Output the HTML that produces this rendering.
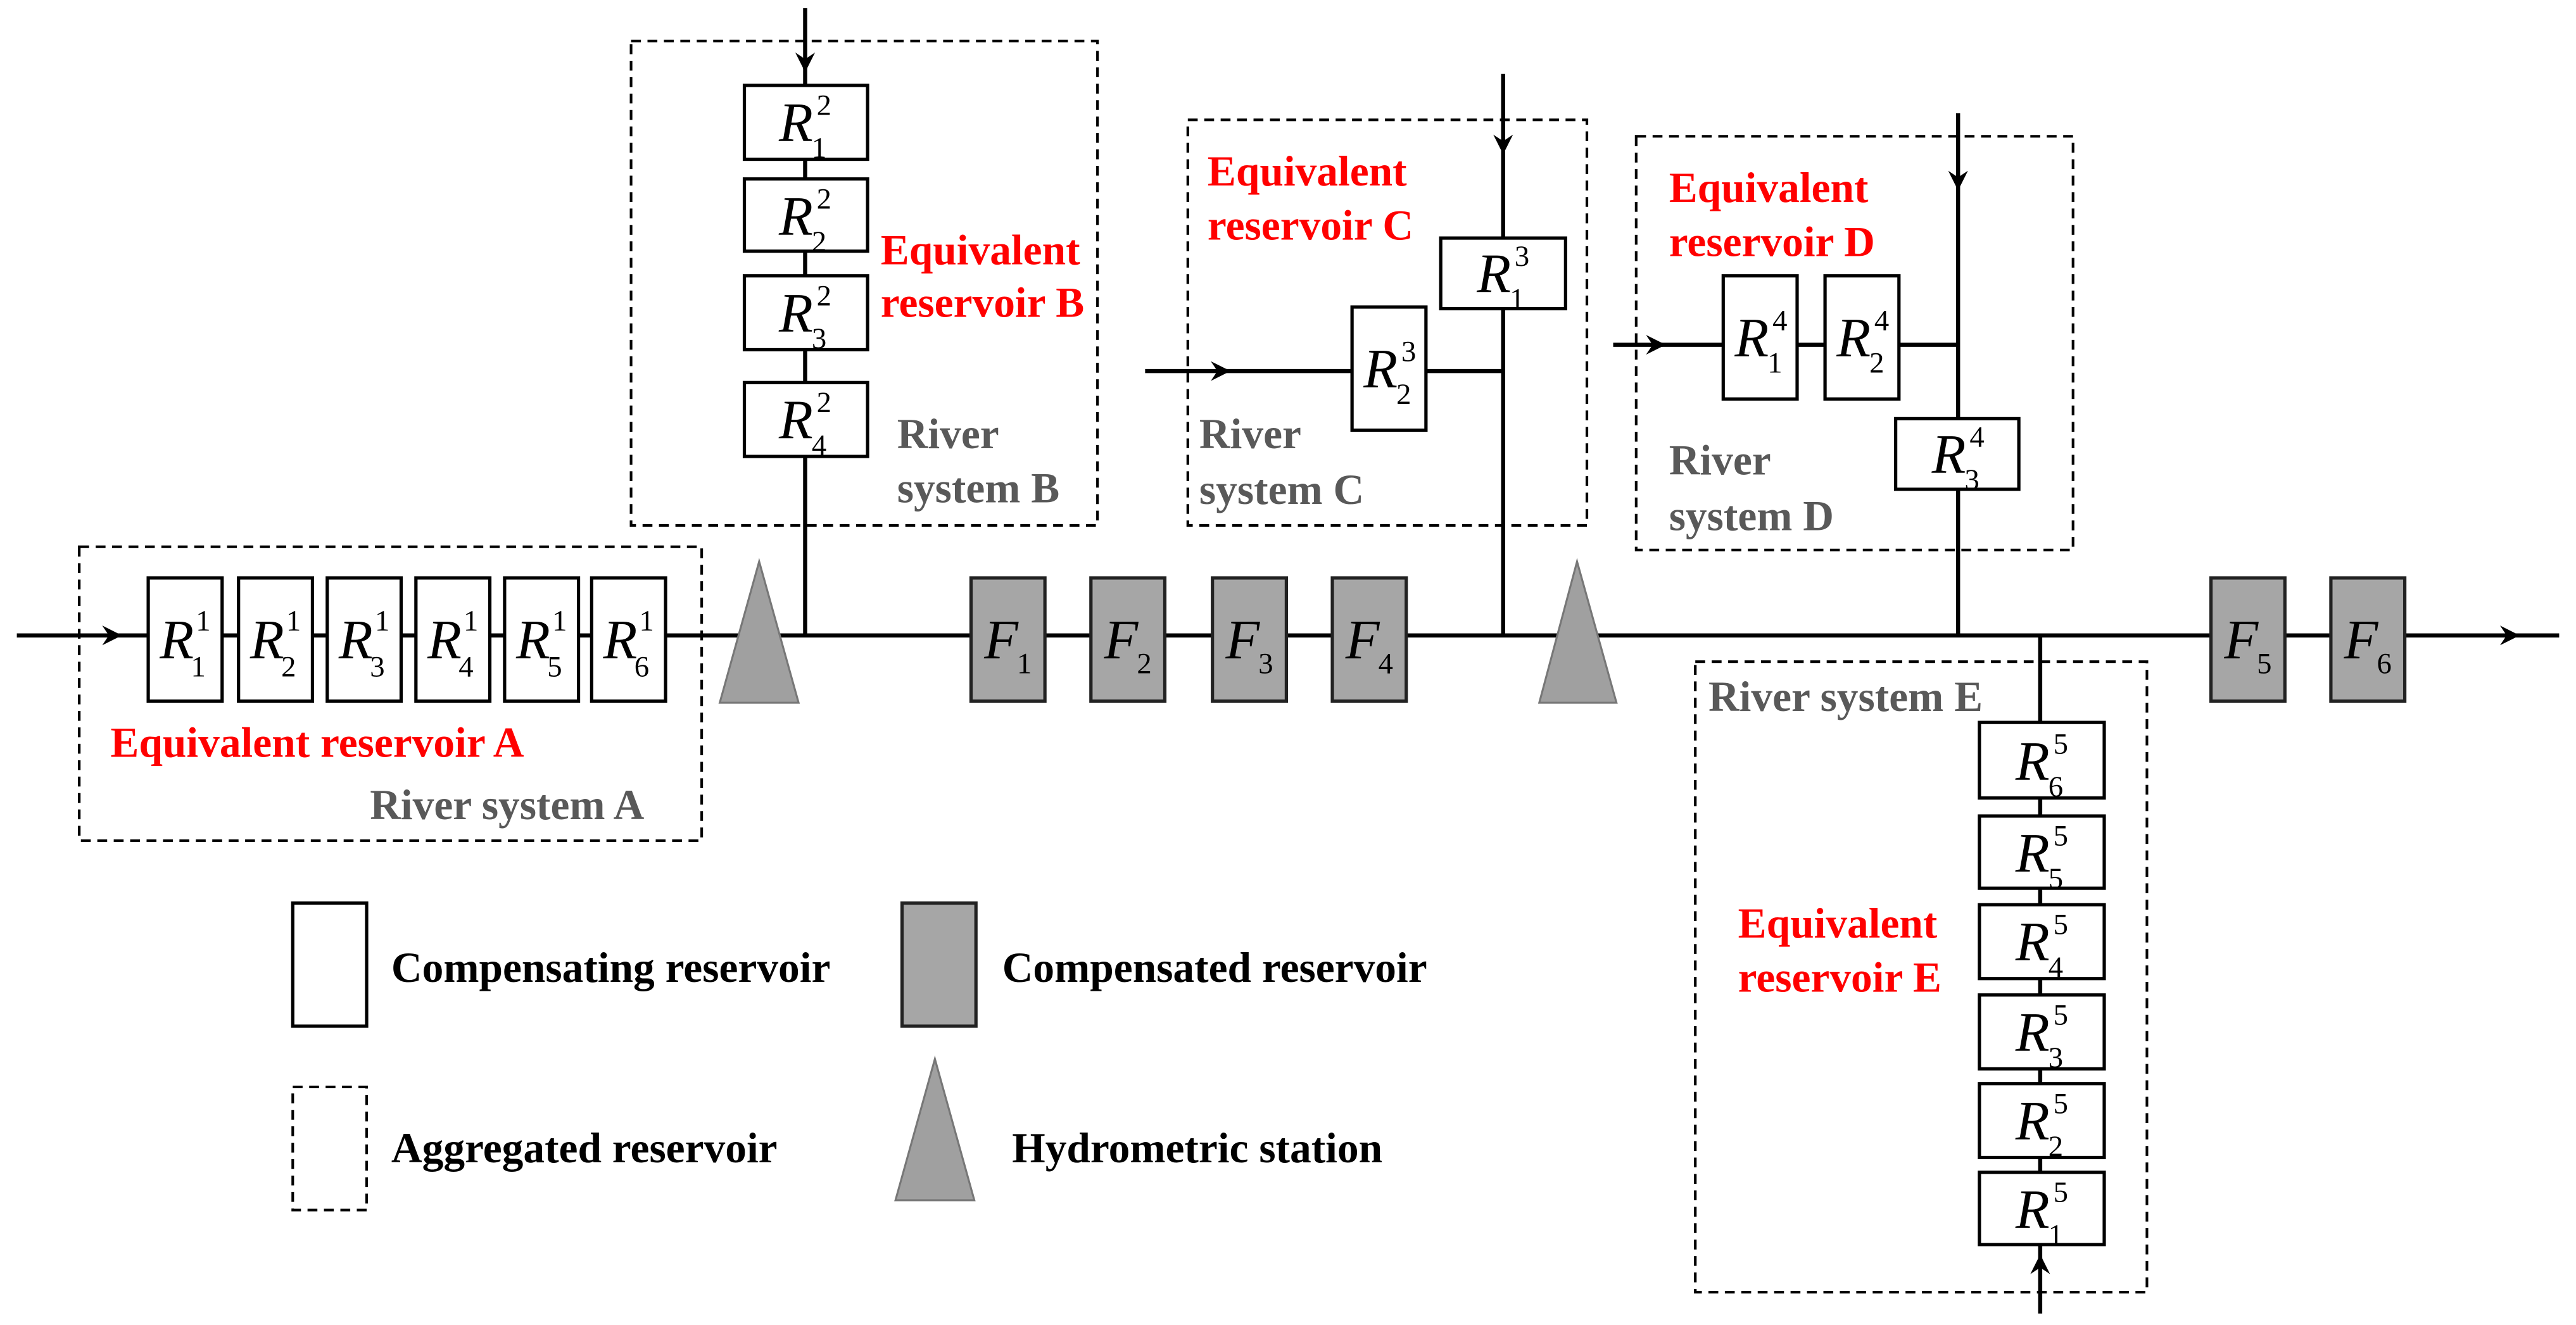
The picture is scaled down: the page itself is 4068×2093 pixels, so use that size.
<!DOCTYPE html>
<html><head><meta charset="utf-8"><style>
html,body{margin:0;padding:0;background:#fff;}
svg{display:block;}
.lb{font-family:"Liberation Serif","DejaVu Serif",serif;font-weight:bold;font-size:26px;}
.red{fill:#f00;}
.gr{fill:#595959;}
.r{font-family:"Liberation Serif",serif;font-style:italic;font-size:34px;}
.s{font-family:"Liberation Serif",serif;font-size:18px;}
.bx{fill:#fff;stroke:#000;stroke-width:2;}
.fx{fill:#a6a6a6;stroke:#222;stroke-width:2;}
.ds{fill:none;stroke:#000;stroke-width:1.6;stroke-dasharray:6,4;}
.ln{stroke:#000;stroke-width:2.5;fill:none;}
.tri{fill:#a0a0a0;stroke:#777;stroke-width:1.2;}
</style></head><body>
<svg width="4068" height="2093" viewBox="0 0 1568 807" xmlns="http://www.w3.org/2000/svg">
<defs><marker id="ar" markerWidth="14" markerHeight="12" refX="10" refY="6" orient="auto" markerUnits="userSpaceOnUse"><path d="M0,0 L12,6 L0,12 L4,6 z" fill="#000"/></marker></defs>

<line class="ln" x1="10" y1="387" x2="72" y2="387" marker-end="url(#ar)"/>
<line class="ln" x1="70" y1="387" x2="1530" y2="387"/>
<line class="ln" x1="1528" y1="387" x2="1532" y2="387" marker-end="url(#ar)"/>
<line class="ln" x1="1530" y1="387" x2="1558" y2="387"/>
<line class="ln" x1="490" y1="5" x2="490" y2="42" marker-end="url(#ar)"/>
<line class="ln" x1="490" y1="40" x2="490" y2="387"/>
<line class="ln" x1="915" y1="45" x2="915" y2="92" marker-end="url(#ar)"/>
<line class="ln" x1="915" y1="90" x2="915" y2="387"/>
<line class="ln" x1="697" y1="226" x2="747" y2="226" marker-end="url(#ar)"/>
<line class="ln" x1="745" y1="226" x2="915" y2="226"/>
<line class="ln" x1="1192" y1="69" x2="1192" y2="114" marker-end="url(#ar)"/>
<line class="ln" x1="1192" y1="112" x2="1192" y2="387"/>
<line class="ln" x1="982" y1="210" x2="1012" y2="210" marker-end="url(#ar)"/>
<line class="ln" x1="1010" y1="210" x2="1192" y2="210"/>
<line class="ln" x1="1242" y1="800" x2="1242" y2="766" marker-end="url(#ar)"/>
<line class="ln" x1="1242" y1="768" x2="1242" y2="387"/>

<rect class="ds" x="48" y="333" width="379" height="179"/>
<rect class="ds" x="384" y="25" width="284" height="295"/>
<rect class="ds" x="723" y="73" width="243" height="247"/>
<rect class="ds" x="996" y="83" width="266" height="252"/>
<rect class="ds" x="1032" y="403" width="275" height="384"/>

<rect class="bx" x="90" y="352" width="45" height="75"/>
<rect class="bx" x="145" y="352" width="45" height="75"/>
<rect class="bx" x="199" y="352" width="45" height="75"/>
<rect class="bx" x="253" y="352" width="45" height="75"/>
<rect class="bx" x="307" y="352" width="45" height="75"/>
<rect class="bx" x="360" y="352" width="45" height="75"/>
<text class="r" x="97" y="401">R</text><text class="s" x="119" y="384">1</text><text class="s" x="116" y="412">1</text>
<text class="r" x="152" y="401">R</text><text class="s" x="174" y="384">1</text><text class="s" x="171" y="412">2</text>
<text class="r" x="206" y="401">R</text><text class="s" x="228" y="384">1</text><text class="s" x="225" y="412">3</text>
<text class="r" x="260" y="401">R</text><text class="s" x="282" y="384">1</text><text class="s" x="279" y="412">4</text>
<text class="r" x="314" y="401">R</text><text class="s" x="336" y="384">1</text><text class="s" x="333" y="412">5</text>
<text class="r" x="367" y="401">R</text><text class="s" x="389" y="384">1</text><text class="s" x="386" y="412">6</text>

<rect class="bx" x="453" y="52" width="75" height="45"/>
<rect class="bx" x="453" y="109" width="75" height="44"/>
<rect class="bx" x="453" y="168" width="75" height="45"/>
<rect class="bx" x="453" y="233" width="75" height="45"/>
<text class="r" x="474" y="86">R</text><text class="s" x="497" y="70">2</text><text class="s" x="494" y="96">1</text>
<text class="r" x="474" y="143">R</text><text class="s" x="497" y="127">2</text><text class="s" x="494" y="153">2</text>
<text class="r" x="474" y="202">R</text><text class="s" x="497" y="186">2</text><text class="s" x="494" y="212">3</text>
<text class="r" x="474" y="267">R</text><text class="s" x="497" y="251">2</text><text class="s" x="494" y="277">4</text>

<rect class="bx" x="877" y="145" width="76" height="43"/>
<rect class="bx" x="823" y="187" width="45" height="75"/>
<text class="r" x="899" y="178">R</text><text class="s" x="922" y="162">3</text><text class="s" x="919" y="188">1</text>
<text class="r" x="830" y="236">R</text><text class="s" x="853" y="220">3</text><text class="s" x="850" y="246">2</text>

<rect class="bx" x="1049" y="168" width="45" height="75"/>
<rect class="bx" x="1111" y="168" width="45" height="75"/>
<rect class="bx" x="1154" y="255" width="75" height="43"/>
<text class="r" x="1056" y="217">R</text><text class="s" x="1079" y="201">4</text><text class="s" x="1076" y="227">1</text>
<text class="r" x="1118" y="217">R</text><text class="s" x="1141" y="201">4</text><text class="s" x="1138" y="227">2</text>
<text class="r" x="1176" y="288">R</text><text class="s" x="1199" y="272">4</text><text class="s" x="1196" y="298">3</text>

<rect class="bx" x="1205" y="440" width="76" height="46"/>
<rect class="bx" x="1205" y="497" width="76" height="44"/>
<rect class="bx" x="1205" y="551" width="76" height="45"/>
<rect class="bx" x="1205" y="606" width="76" height="45"/>
<rect class="bx" x="1205" y="660" width="76" height="45"/>
<rect class="bx" x="1205" y="714" width="76" height="44"/>
<text class="r" x="1227" y="475">R</text><text class="s" x="1250" y="459">5</text><text class="s" x="1247" y="485">6</text>
<text class="r" x="1227" y="531">R</text><text class="s" x="1250" y="515">5</text><text class="s" x="1247" y="541">5</text>
<text class="r" x="1227" y="585">R</text><text class="s" x="1250" y="569">5</text><text class="s" x="1247" y="595">4</text>
<text class="r" x="1227" y="640">R</text><text class="s" x="1250" y="624">5</text><text class="s" x="1247" y="650">3</text>
<text class="r" x="1227" y="694">R</text><text class="s" x="1250" y="678">5</text><text class="s" x="1247" y="704">2</text>
<text class="r" x="1227" y="748">R</text><text class="s" x="1250" y="732">5</text><text class="s" x="1247" y="758">1</text>

<rect class="fx" x="591" y="352" width="45" height="75"/>
<rect class="fx" x="664" y="352" width="45" height="75"/>
<rect class="fx" x="738" y="352" width="45" height="75"/>
<rect class="fx" x="811" y="352" width="45" height="75"/>
<rect class="fx" x="1346" y="352" width="45" height="75"/>
<rect class="fx" x="1419" y="352" width="45" height="75"/>
<text class="r" x="599" y="401">F</text><text class="s" x="619" y="410">1</text>
<text class="r" x="672" y="401">F</text><text class="s" x="692" y="410">2</text>
<text class="r" x="746" y="401">F</text><text class="s" x="766" y="410">3</text>
<text class="r" x="819" y="401">F</text><text class="s" x="839" y="410">4</text>
<text class="r" x="1354" y="401">F</text><text class="s" x="1374" y="410">5</text>
<text class="r" x="1427" y="401">F</text><text class="s" x="1447" y="410">6</text>

<polygon class="tri" points="462,342 486,428 438,428"/>
<polygon class="tri" points="960,342 984,428 937,428"/>

<text class="lb red" x="67" y="461">Equivalent reservoir A</text>
<text class="lb gr" x="225" y="499">River system A</text>
<text class="lb red" x="536" y="161">Equivalent</text>
<text class="lb red" x="536" y="193">reservoir B</text>
<text class="lb gr" x="546" y="273">River</text>
<text class="lb gr" x="546" y="306">system B</text>
<text class="lb red" x="735" y="113">Equivalent</text>
<text class="lb red" x="735" y="146">reservoir C</text>
<text class="lb gr" x="730" y="273">River</text>
<text class="lb gr" x="730" y="307">system C</text>
<text class="lb red" x="1016" y="123">Equivalent</text>
<text class="lb red" x="1016" y="156">reservoir D</text>
<text class="lb gr" x="1016" y="289">River</text>
<text class="lb gr" x="1016" y="323">system D</text>
<text class="lb gr" x="1040" y="433">River system E</text>
<text class="lb red" x="1058" y="571">Equivalent</text>
<text class="lb red" x="1058" y="604">reservoir E</text>

<rect class="bx" x="178" y="550" width="45" height="75"/>
<text class="lb" x="238" y="598">Compensating reservoir</text>
<rect class="fx" x="549" y="550" width="45" height="75"/>
<text class="lb" x="610" y="598">Compensated reservoir</text>
<rect class="ds" x="178" y="662" width="45" height="75"/>
<text class="lb" x="238" y="708">Aggregated reservoir</text>
<polygon class="tri" points="569,645 593,731 545,731"/>
<text class="lb" x="616" y="708">Hydrometric station</text>
</svg>
</body></html>
